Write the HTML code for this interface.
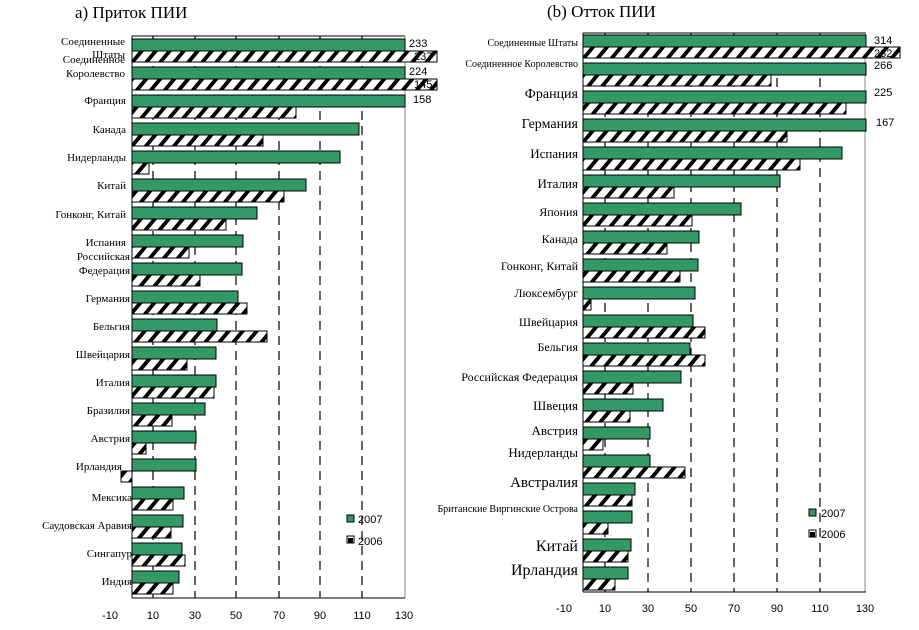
<!DOCTYPE html>
<html><head><meta charset="utf-8"><style>
html,body{margin:0;padding:0;background:#fff}
svg{display:block}
.l{font-family:"Liberation Serif",serif;font-size:11px;fill:#000;text-anchor:end}
.t{font-family:"Liberation Sans",sans-serif;font-size:11px;fill:#000;text-anchor:middle}
.v{font-family:"Liberation Sans",sans-serif;font-size:11px;fill:#000}
.g{fill:#339966;stroke:#000;stroke-width:1}
.h{fill:url(#hp);stroke:#000;stroke-width:1}
.d{stroke:#000;stroke-width:1.2;stroke-dasharray:9,6}
</style></head><body>
<svg width="919" height="630" viewBox="0 0 919 630" xmlns="http://www.w3.org/2000/svg">
<defs>
<pattern id="hp" patternUnits="userSpaceOnUse" width="14" height="11" patternTransform="skewX(-40)">
<rect width="14" height="11" fill="#fff"/><rect x="0" y="0" width="5" height="11" fill="#000"/>
</pattern>
</defs>
<text x="75" y="18" style="font-family:'Liberation Serif',serif;font-size:17px">а) Приток ПИИ</text>
<text x="547" y="17" style="font-family:'Liberation Serif',serif;font-size:17px">(b) Отток ПИИ</text>

<!-- LEFT CHART -->
<g>
<line x1="153" y1="36" x2="153" y2="598" class="d"/>
<line x1="195" y1="36" x2="195" y2="598" class="d"/>
<line x1="236" y1="36" x2="236" y2="598" class="d"/>
<line x1="279" y1="36" x2="279" y2="598" class="d"/>
<line x1="320" y1="36" x2="320" y2="598" class="d"/>
<line x1="362" y1="36" x2="362" y2="598" class="d"/>
<line x1="132" y1="36" x2="405" y2="36" stroke="#000"/>
<line x1="405" y1="36" x2="405" y2="598" stroke="#888"/>
<rect class="g" x="132" y="39" width="273" height="12"/><rect class="h" x="132" y="51" width="305" height="11"/>
<rect class="g" x="132" y="67" width="273" height="12"/><rect class="h" x="132" y="79" width="305" height="11"/>
<rect class="g" x="132" y="95" width="273" height="12"/><rect class="h" x="132" y="107" width="164" height="11"/>
<rect class="g" x="132" y="123" width="227" height="12"/><rect class="h" x="132" y="135" width="131" height="11"/>
<rect class="g" x="132" y="151" width="208" height="12"/><rect class="h" x="132" y="163" width="17" height="11"/>
<rect class="g" x="132" y="179" width="174" height="12"/><rect class="h" x="132" y="191" width="152" height="11"/>
<rect class="g" x="132" y="207" width="125" height="12"/><rect class="h" x="132" y="219" width="94" height="11"/>
<rect class="g" x="132" y="235" width="111" height="12"/><rect class="h" x="132" y="247" width="57" height="11"/>
<rect class="g" x="132" y="263" width="110" height="12"/><rect class="h" x="132" y="275" width="68" height="11"/>
<rect class="g" x="132" y="291" width="106" height="12"/><rect class="h" x="132" y="303" width="115" height="11"/>
<rect class="g" x="132" y="319" width="85" height="12"/><rect class="h" x="132" y="331" width="135" height="11"/>
<rect class="g" x="132" y="347" width="84" height="12"/><rect class="h" x="132" y="359" width="55" height="11"/>
<rect class="g" x="132" y="375" width="84" height="12"/><rect class="h" x="132" y="387" width="82" height="11"/>
<rect class="g" x="132" y="403" width="73" height="12"/><rect class="h" x="132" y="415" width="40" height="11"/>
<rect class="g" x="132" y="431" width="64" height="12"/><rect class="h" x="132" y="443" width="14" height="11"/>
<rect class="g" x="132" y="459" width="64" height="12"/><rect class="h" x="121" y="471" width="11" height="11"/>
<rect class="g" x="132" y="487" width="52" height="12"/><rect class="h" x="132" y="499" width="41" height="11"/>
<rect class="g" x="132" y="515" width="51" height="12"/><rect class="h" x="132" y="527" width="39" height="11"/>
<rect class="g" x="132" y="543" width="50" height="12"/><rect class="h" x="132" y="555" width="53" height="11"/>
<rect class="g" x="132" y="571" width="47" height="12"/><rect class="h" x="132" y="583" width="41" height="11"/>
<line x1="132" y1="36" x2="132" y2="598" stroke="#000"/>
<line x1="132" y1="598" x2="405" y2="598" stroke="#000"/>
<text class="v" x="409" y="47">233</text><text class="v" x="414" y="60">237</text>
<text class="v" x="409" y="75">224</text><text class="v" x="414" y="88">145</text>
<text class="v" x="413" y="103">158</text>
<text class="l" x="125" y="45">Соединенные</text>
<text class="l" x="125" y="58">Штаты</text>
<text class="l" x="125" y="63">Соединенное</text>
<text class="l" x="125" y="77">Королевство</text>
<text class="l" x="126" y="104">Франция</text>
<text class="l" x="126" y="133">Канада</text>
<text class="l" x="126" y="161">Нидерланды</text>
<text class="l" x="126" y="189">Китай</text>
<text class="l" x="126" y="218">Гонконг, Китай</text>
<text class="l" x="126" y="246">Испания</text>
<text class="l" x="130" y="260">Российская</text>
<text class="l" x="130" y="274">Федерация</text>
<text class="l" x="130" y="302">Германия</text>
<text class="l" x="130" y="330">Бельгия</text>
<text class="l" x="130" y="358">Швейцария</text>
<text class="l" x="130" y="386">Италия</text>
<text class="l" x="130" y="414">Бразилия</text>
<text class="l" x="130" y="442">Австрия</text>
<text class="l" x="122" y="470">Ирландия</text>
<text class="l" x="132" y="501">Мексика</text>
<text class="l" x="132" y="529">Саудовская Аравия</text>
<text class="l" x="132" y="557">Сингапур</text>
<text class="l" x="132" y="585">Индия</text>
<rect x="347" y="515" width="7" height="7" class="g"/><text class="v" x="358" y="523">2007</text>
<rect x="347" y="536" width="7" height="7" fill="#fff" stroke="#000"/><rect x="348" y="538" width="5" height="5" fill="#000"/><text class="v" x="358" y="545">2006</text>
<text class="t" x="110" y="619">-10</text><text class="t" x="153" y="619">10</text><text class="t" x="195" y="619">30</text><text class="t" x="236" y="619">50</text><text class="t" x="279" y="619">70</text><text class="t" x="320" y="619">90</text><text class="t" x="362" y="619">110</text><text class="t" x="404" y="619">130</text>
</g>

<!-- RIGHT CHART -->
<g>
<line x1="605" y1="33" x2="605" y2="592" class="d"/>
<line x1="648" y1="33" x2="648" y2="592" class="d"/>
<line x1="691" y1="33" x2="691" y2="592" class="d"/>
<line x1="734" y1="33" x2="734" y2="592" class="d"/>
<line x1="777" y1="33" x2="777" y2="592" class="d"/>
<line x1="820" y1="33" x2="820" y2="592" class="d"/>
<line x1="583" y1="33" x2="866" y2="33" stroke="#000"/>
<line x1="865" y1="33" x2="865" y2="592" stroke="#888"/>
<rect class="g" x="583" y="35" width="283" height="12"/><rect class="h" x="583" y="47" width="317" height="11"/>
<rect class="g" x="583" y="63" width="283" height="12"/><rect class="h" x="583" y="75" width="188" height="11"/>
<rect class="g" x="583" y="91" width="283" height="12"/><rect class="h" x="583" y="103" width="263" height="11"/>
<rect class="g" x="583" y="119" width="283" height="12"/><rect class="h" x="583" y="131" width="204" height="11"/>
<rect class="g" x="583" y="147" width="259" height="12"/><rect class="h" x="583" y="159" width="217" height="11"/>
<rect class="g" x="583" y="175" width="197" height="12"/><rect class="h" x="583" y="187" width="91" height="11"/>
<rect class="g" x="583" y="203" width="158" height="12"/><rect class="h" x="583" y="215" width="109" height="11"/>
<rect class="g" x="583" y="231" width="116" height="12"/><rect class="h" x="583" y="243" width="84" height="11"/>
<rect class="g" x="583" y="259" width="115" height="12"/><rect class="h" x="583" y="271" width="97" height="11"/>
<rect class="g" x="583" y="287" width="112" height="12"/><rect class="h" x="583" y="299" width="8" height="11"/>
<rect class="g" x="583" y="315" width="110" height="12"/><rect class="h" x="583" y="327" width="122" height="11"/>
<rect class="g" x="583" y="343" width="107" height="12"/><rect class="h" x="583" y="355" width="122" height="11"/>
<rect class="g" x="583" y="371" width="98" height="12"/><rect class="h" x="583" y="383" width="50" height="11"/>
<rect class="g" x="583" y="399" width="80" height="12"/><rect class="h" x="583" y="411" width="47" height="11"/>
<rect class="g" x="583" y="427" width="67" height="12"/><rect class="h" x="583" y="439" width="20" height="11"/>
<rect class="g" x="583" y="455" width="67" height="12"/><rect class="h" x="583" y="467" width="102" height="11"/>
<rect class="g" x="583" y="483" width="52" height="12"/><rect class="h" x="583" y="495" width="49" height="11"/>
<rect class="g" x="583" y="511" width="49" height="12"/><rect class="h" x="583" y="523" width="25" height="11"/>
<rect class="g" x="583" y="539" width="48" height="12"/><rect class="h" x="583" y="551" width="45" height="11"/>
<rect class="g" x="583" y="567" width="45" height="12"/><rect class="h" x="583" y="579" width="32" height="11"/>
<line x1="583" y1="33" x2="583" y2="592" stroke="#000"/>
<line x1="583" y1="592" x2="866" y2="592" stroke="#000"/>
<text class="v" x="874" y="44">314</text><text class="v" x="874" y="57">232</text>
<text class="v" x="874" y="69">266</text><text class="v" x="874" y="96">225</text><text class="v" x="876" y="126">167</text>
<text class="l" x="578" y="46" style="font-size:10px">Соединенные Штаты</text>
<text class="l" x="578" y="67" style="font-size:10px">Соединенное Королевство</text>
<text class="l" x="578" y="98" style="font-size:14px">Франция</text>
<text class="l" x="578" y="128" style="font-size:14px">Германия</text>
<text class="l" x="578" y="158" style="font-size:13px">Испания</text>
<text class="l" x="578" y="188" style="font-size:13px">Италия</text>
<text class="l" x="578" y="216" style="font-size:12px">Япония</text>
<text class="l" x="578" y="243" style="font-size:12px">Канада</text>
<text class="l" x="578" y="270" style="font-size:12px">Гонконг, Китай</text>
<text class="l" x="578" y="297" style="font-size:12px">Люксембург</text>
<text class="l" x="578" y="326" style="font-size:12px">Швейцария</text>
<text class="l" x="578" y="351" style="font-size:12px">Бельгия</text>
<text class="l" x="578" y="381" style="font-size:12px">Российская Федерация</text>
<text class="l" x="578" y="410" style="font-size:13px">Швеция</text>
<text class="l" x="578" y="435" style="font-size:13px">Австрия</text>
<text class="l" x="578" y="457" style="font-size:13px">Нидерланды</text>
<text class="l" x="578" y="487" style="font-size:15px">Австралия</text>
<text class="l" x="578" y="512" style="font-size:10px">Британские Виргинские Острова</text>
<text class="l" x="578" y="551" style="font-size:16px">Китай</text>
<text class="l" x="578" y="575" style="font-size:16px">Ирландия</text>
<rect x="809" y="509" width="7" height="7" class="g"/><text class="v" x="821" y="517">2007</text>
<rect x="809" y="530" width="7" height="7" fill="#fff" stroke="#000"/><rect x="810" y="532" width="5" height="5" fill="#000"/><text class="v" x="821" y="538">2006</text>
<text class="t" x="564" y="612">-10</text><text class="t" x="605" y="612">10</text><text class="t" x="648" y="612">30</text><text class="t" x="691" y="612">50</text><text class="t" x="734" y="612">70</text><text class="t" x="777" y="612">90</text><text class="t" x="820" y="612">110</text><text class="t" x="865" y="612">130</text>
</g>
</svg>
</body></html>
